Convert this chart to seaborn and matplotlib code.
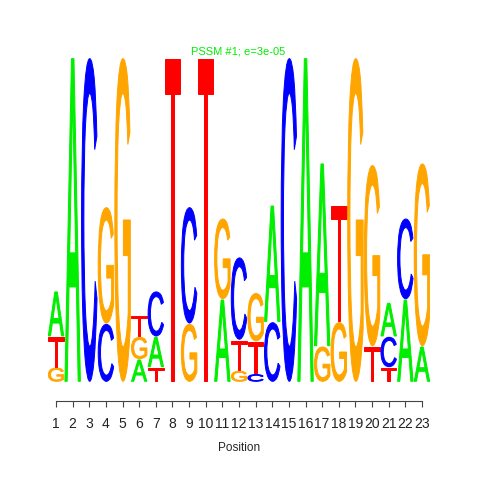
import matplotlib
matplotlib.use("Agg")
import matplotlib.pyplot as plt
import seaborn as sns
from matplotlib.textpath import TextPath
from matplotlib.patches import PathPatch
from matplotlib.font_manager import FontProperties
from matplotlib import transforms

sns.set_style("white")
plt.rcParams["font.family"] = ["Liberation Sans", "DejaVu Sans"]

positions = list(range(1, 24))
# letters per position, bottom to top, with heights in bits
letters = [
    "GTA", "A", "C", "CG", "G", "AGT", "TAC", "T", "GC", "T", "AG", "GTC",
    "CTG", "CA", "C", "A", "GA", "GT", "G", "TG", "TCA", "AC", "AG",
]
heights = [
    [0.09, 0.19, 0.28], [2.0], [2.0], [0.36, 0.72], [2.0], [0.14, 0.14, 0.13],
    [0.09, 0.19, 0.28], [2.0], [0.36, 0.72], [2.0], [0.51, 0.50], [0.07, 0.19, 0.51],
    [0.05, 0.20, 0.30], [0.37, 0.72], [2.0], [2.0], [0.22, 1.13], [0.37, 0.72],
    [2.0], [0.22, 1.12], [0.09, 0.19, 0.21], [0.51, 0.50], [0.22, 1.13],
]
colors = {"A": "#00ee00", "C": "#0000ff", "G": "#ffa500", "T": "#ff0000"}

fig = plt.figure(figsize=(4.8, 4.8), dpi=100)
ax = fig.add_axes([0.0994, 0.2042, 0.797, 0.675])

fp = FontProperties(family="Liberation Sans")

def draw_letter(ch, x, y, w, h):
    tp = TextPath((0, 0), ch, size=1, prop=fp)
    bb = tp.get_extents()
    tr = (transforms.Affine2D()
          .translate(-bb.x0, -bb.y0)
          .scale(w / bb.width, h / bb.height)
          .translate(x - w / 2, y))
    ax.add_patch(PathPatch(tr.transform_path(tp), fc=colors[ch], ec=colors[ch],
                           lw=0.7, joinstyle="miter"))

for pos, seq, hs in zip(positions, letters, heights):
    y = 0
    for ch, h in zip(seq, hs):
        draw_letter(ch, pos, y + 0.004, 0.93, h - 0.008)
        y += h

ax.set_xlim(0.5, 23.5)
ax.set_ylim(0, 2)
ax.set_yticks([])
ax.set_xticks(positions)
ax.set_xticklabels([str(p) for p in positions], fontsize=8.5)
sns.despine(ax=ax, left=True)
ax.spines["bottom"].set_position(("outward", 13.7))
ax.spines["bottom"].set_bounds(1, 23)
ax.spines["bottom"].set_color("#444444")
ax.tick_params(axis="x", direction="out", length=4.3, color="#444444", pad=7,
               bottom=True, labelcolor="#222222")
ax.set_xlabel("Position", fontsize=8.5, labelpad=8)

fig.text(238 / 480, 1 - 52 / 480, "PSSM #1; e=3e-05", color="#00ee00",
         fontsize=8, ha="center", va="center")

fig.savefig("out.png", dpi=100)
